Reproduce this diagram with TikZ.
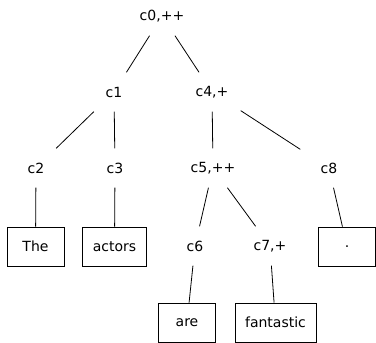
\documentclass[tikz,border=0pt]{standalone}
\usepackage{fontspec}
\setmainfont{DejaVu Sans}
\begin{document}
\begin{tikzpicture}[x=1pt,y=-1pt,
  lbl/.style={minimum width=57pt,minimum height=39pt,inner sep=0pt,font=\fontsize{14}{16}\selectfont},
  wbox/.style={lbl,draw,line width=0.8pt,inner xsep=10pt},
  edge/.style={line width=0.8pt}]
\useasboundingbox (0,0) rectangle (376,343);
\node[lbl] (c0) at (162,16) {c0,++};
\node[lbl] (c1) at (114,92) {c1};
\node[lbl] (c4) at (212,92) {c4,+};
\node[lbl] (c2) at (36,168) {c2};
\node[lbl] (c3) at (115,168) {c3};
\node[lbl] (c5) at (213,168) {c5,++};
\node[lbl] (c8) at (329,168) {c8};
\node[wbox] (the) at (35.5,246.5) {The};
\node[wbox] (actors) at (114.5,246.5) {actors};
\node[lbl] (c6) at (195,246) {c6};
\node[lbl] (c7) at (270,246) {c7,+};
\node[wbox] (dot) at (347,246.5) {.};
\node[wbox] (are) at (187,322.5) {are};
\node[wbox] (fan) at (275.5,322.5) {fantastic};
\draw[edge] (c0) -- (c1);
\draw[edge] (c0) -- (c4);
\draw[edge] (c1) -- (c2);
\draw[edge] (c1) -- (c3);
\draw[edge] (c4) -- (c5);
\draw[edge] (c4) -- (c8);
\draw[edge] (c2) -- (the);
\draw[edge] (c3) -- (actors);
\draw[edge] (c5) -- (c6);
\draw[edge] (c5) -- (c7);
\draw[edge] (c8) -- (dot);
\draw[edge] (c6) -- (are);
\draw[edge] (c7) -- (fan);
\end{tikzpicture}
\end{document}
